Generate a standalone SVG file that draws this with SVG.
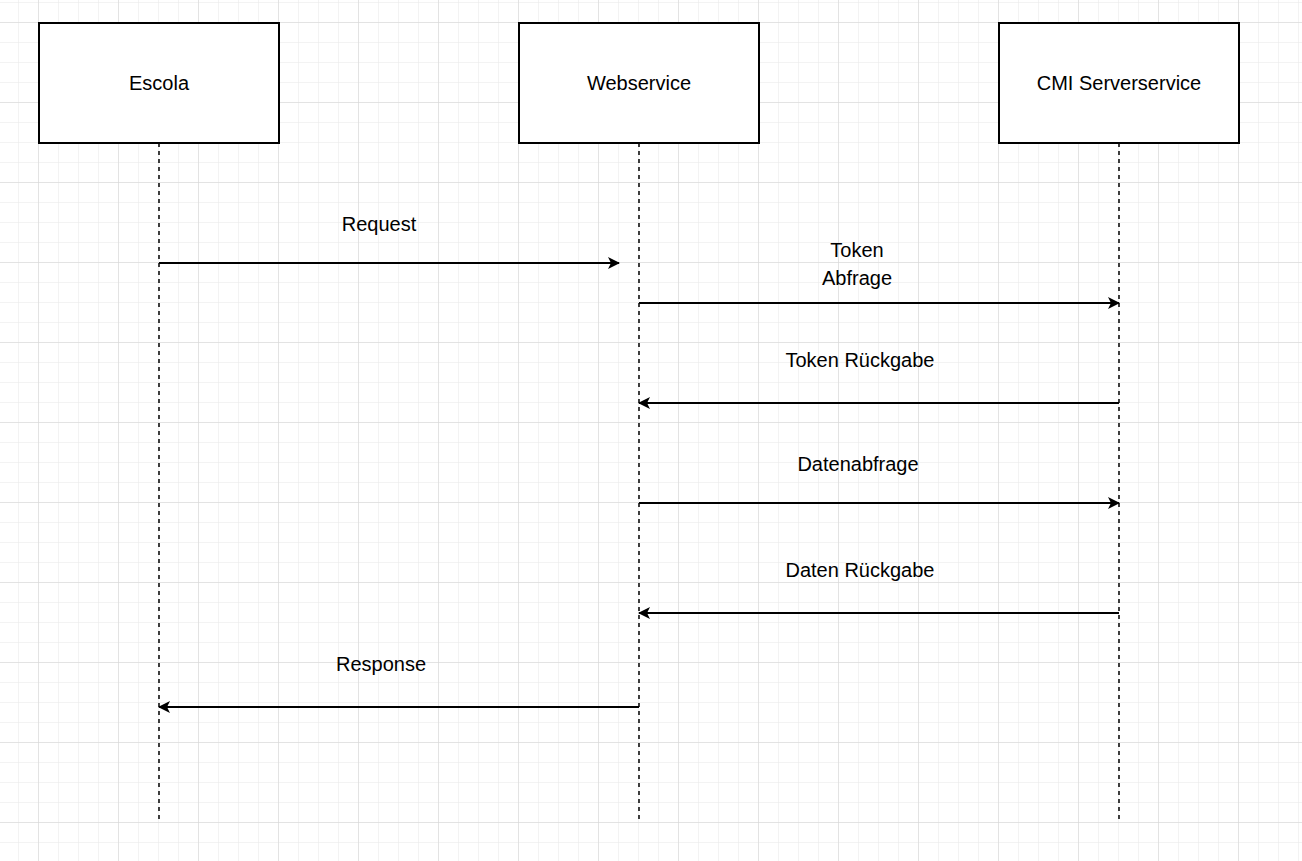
<svg xmlns="http://www.w3.org/2000/svg" width="1302" height="861" viewBox="0 0 1302 861">
<defs>
<pattern id="minor" x="18" y="2" width="20" height="20" patternUnits="userSpaceOnUse"><path d="M0 0H20M0 0V20" stroke="#e8e8e8" stroke-width="1" fill="none"/></pattern>
<pattern id="major" x="38" y="22" width="80" height="80" patternUnits="userSpaceOnUse"><path d="M0 0H80M0 0V80" stroke="#d4d4d4" stroke-width="1" fill="none"/></pattern>
<marker id="ah" markerWidth="12" markerHeight="12" viewBox="0 0 12 12" refX="11" refY="6" orient="auto" markerUnits="userSpaceOnUse"><path d="M0 0L12 6L0 12L3 6Z" fill="#000"/></marker>
</defs>
<style>
.box{fill:#fff;stroke:#000;stroke-width:2}
.life{stroke:#000;stroke-width:1.5;stroke-dasharray:4 4;fill:none}
.msg{stroke:#000;stroke-width:2;fill:none;marker-end:url(#ah)}
text{font-family:"Liberation Sans",Arial,sans-serif;font-size:20px;fill:#000;text-anchor:middle}
</style>
<rect width="1302" height="861" fill="#fff"/>
<rect width="1302" height="861" fill="url(#minor)"/>
<rect width="1302" height="861" fill="url(#major)"/>
<g id="lifelines">
<path class="life" d="M159 143V823M639 143V823M1119 143V823"/>
</g>
<g id="escola"><rect class="box" x="39" y="23" width="240" height="120"/><text x="159" y="90">Escola</text></g>
<g id="webservice"><rect class="box" x="519" y="23" width="240" height="120"/><text x="639" y="90">Webservice</text></g>
<g id="cmi"><rect class="box" x="999" y="23" width="240" height="120"/><text x="1119" y="90">CMI Serverservice</text></g>
<g id="connectors">
<path class="msg" d="M159 263H619"/>
<path class="msg" d="M639 303H1119"/>
<path class="msg" d="M1119 403H639"/>
<path class="msg" d="M639 503H1119"/>
<path class="msg" d="M1119 613H639"/>
<path class="msg" d="M639 707H159"/>
</g>
<g id="labels">
<text x="379" y="231">Request</text>
<text x="857" y="257">Token</text>
<text x="857" y="285">Abfrage</text>
<text x="860" y="367">Token Rückgabe</text>
<text x="858" y="471">Datenabfrage</text>
<text x="860" y="577">Daten Rückgabe</text>
<text x="381" y="671">Response</text>
</g>
</svg>
